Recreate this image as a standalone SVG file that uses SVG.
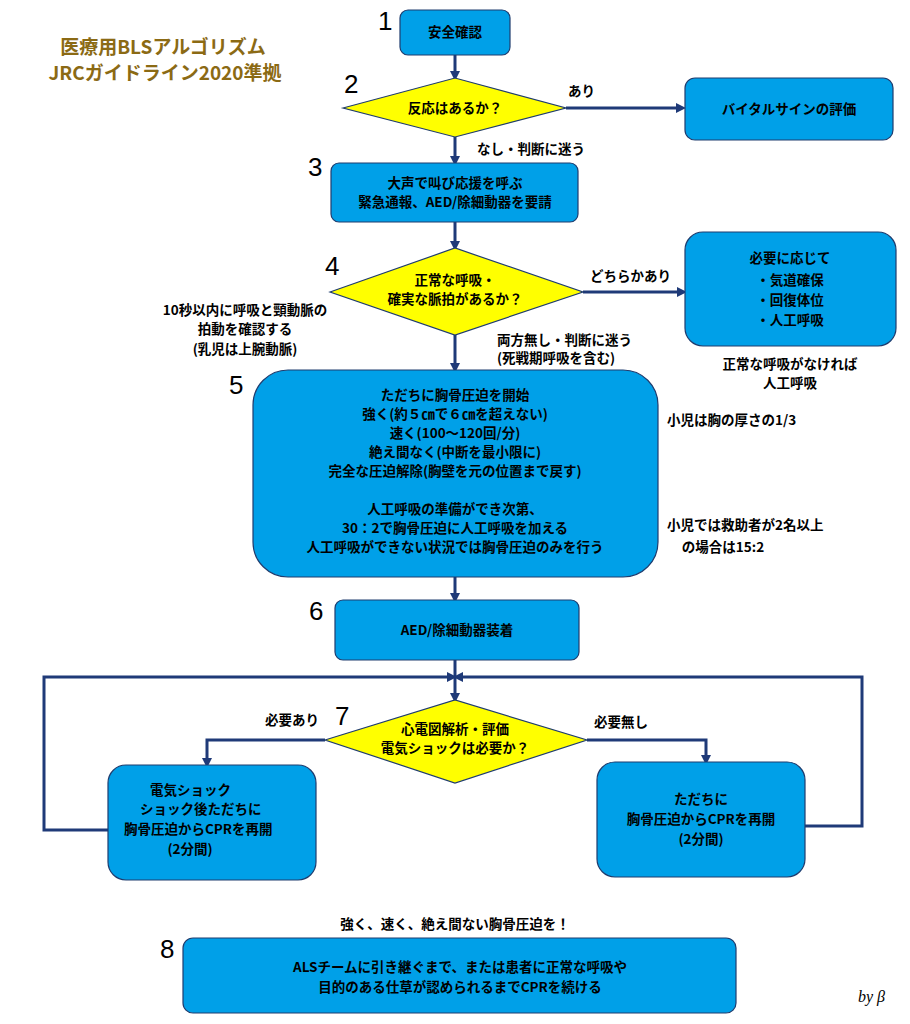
<svg xmlns="http://www.w3.org/2000/svg" width="910" height="1024" viewBox="0 0 910 1024">
<style>
.b{fill:#00a0e8;stroke:#1f3c6e;stroke-width:1.2}
.d{fill:#ffff00;stroke:#1f3c6e;stroke-width:1.2}
text{font-family:"Noto Sans CJK JP","Noto Sans",sans-serif;font-size:13.5px;font-weight:bold;fill:#000}
.c{text-anchor:middle}
.n{font-family:"Liberation Sans",sans-serif;font-size:26px;font-weight:normal}
.l{fill:none;stroke:#1f3a78;stroke-width:3}
</style>
<defs><marker id="a" markerWidth="10" markerHeight="10" refX="5" refY="5" orient="auto" markerUnits="userSpaceOnUse"><path d="M0,0 L10,5 L0,10 z" fill="#1f3a78"/></marker></defs>
<rect width="910" height="1024" fill="#fff"/>
<g id="title"><text x="163" y="54" class="c" style="font-size:19px;fill:#8b6a14">医療用BLSアルゴリズム</text><text x="165" y="80" class="c" style="font-size:19px;fill:#8b6a14">JRCガイドライン2020準拠</text></g>
<g id="nums"><text class="n" x="378" y="30">1</text><text class="n" x="344" y="93">2</text><text class="n" x="308" y="176">3</text><text class="n" x="325" y="275">4</text><text class="n" x="229" y="394">5</text><text class="n" x="309" y="620">6</text><text class="n" x="335" y="725">7</text><text class="n" x="160" y="958">8</text></g>
<g id="connectors">
<path class="l" d="M455,55V76" marker-end="url(#a)"/>
<path class="l" d="M566,108H681" marker-end="url(#a)"/>
<path class="l" d="M455,137V161" marker-end="url(#a)"/>
<path class="l" d="M455,222V246" marker-end="url(#a)"/>
<path class="l" d="M583,292H682" marker-end="url(#a)"/>
<path class="l" d="M455,335V368" marker-end="url(#a)"/>
<path class="l" d="M455,577V598" marker-end="url(#a)"/>
<path class="l" d="M455,660V698" marker-end="url(#a)"/>
<path class="l" d="M108,830H44V677H452" marker-end="url(#a)"/>
<path class="l" d="M805,826H862V677H458" marker-end="url(#a)"/>
<path class="l" d="M325,740H207V763" marker-end="url(#a)"/>
<path class="l" d="M587,740H706V760" marker-end="url(#a)"/>
</g>
<g id="labels">
<text x="568" y="96">あり</text>
<text x="477" y="154">なし・判断に迷う</text>
<text x="590" y="281">どちらかあり</text>
<text x="245" y="315" class="c">10秒以内に呼吸と頸動脈の</text>
<text x="245" y="334" class="c">拍動を確認する</text>
<text x="245" y="354" class="c">(乳児は上腕動脈)</text>
<text x="497" y="345">両方無し・判断に迷う</text>
<text x="497" y="363">(死戦期呼吸を含む)</text>
<text x="790" y="369" class="c">正常な呼吸がなければ</text>
<text x="790" y="388" class="c">人工呼吸</text>
<text x="667" y="425">小児は胸の厚さの1/3</text>
<text x="667" y="530">小児では救助者が2名以上</text>
<text x="723" y="552" class="c">の場合は15:2</text>
<text x="292" y="725" class="c">必要あり</text>
<text x="621" y="727" class="c">必要無し</text>
<text x="455" y="929" class="c">強く、速く、絶え間ない胸骨圧迫を！</text>
<text x="858" y="1002" style="font-family:'Liberation Serif',serif;font-style:italic;font-weight:normal;font-size:16px">by β</text>
</g>
<g id="n1"><rect class="b" x="400" y="10" width="110" height="45" rx="8"/><text x="455" y="37" class="c">安全確認</text></g>
<g id="n2"><polygon class="d" points="343,108 455,78 566,108 455,137"/><text x="455" y="113" class="c">反応はあるか？</text></g>
<g id="nv"><rect class="b" x="685" y="78" width="208" height="62" rx="10"/><text x="789" y="114" class="c">バイタルサインの評価</text></g>
<g id="n3"><rect class="b" x="331" y="163" width="247" height="59" rx="8"/><text x="455" y="188" class="c">大声で叫び応援を呼ぶ</text><text x="455" y="207" class="c">緊急通報、AED/除細動器を要請</text></g>
<g id="n4"><polygon class="d" points="330,292 455,248 583,292 455,335"/><text x="455" y="285" class="c">正常な呼吸・</text><text x="455" y="304" class="c">確実な脈拍があるか？</text></g>
<g id="nr"><rect class="b" x="685" y="232" width="211" height="114" rx="18"/><text x="790" y="263" class="c">必要に応じて</text><text x="790" y="285" class="c">・気道確保</text><text x="790" y="305" class="c">・回復体位</text><text x="790" y="325" class="c">・人工呼吸</text></g>
<g id="n5"><rect class="b" x="253" y="370" width="405" height="207" rx="35"/>
<text x="455" y="400" class="c">ただちに胸骨圧迫を開始</text>
<text x="455" y="419" class="c">強く(約５㎝で６㎝を超えない)</text>
<text x="455" y="438" class="c">速く(100～120回/分)</text>
<text x="455" y="457" class="c">絶え間なく(中断を最小限に)</text>
<text x="455" y="476" class="c">完全な圧迫解除(胸壁を元の位置まで戻す)</text>
<text x="455" y="514" class="c">人工呼吸の準備ができ次第、</text>
<text x="455" y="533" class="c">30：2で胸骨圧迫に人工呼吸を加える</text>
<text x="455" y="552" class="c">人工呼吸ができない状況では胸骨圧迫のみを行う</text></g>
<g id="n6"><rect class="b" x="335" y="600" width="244" height="60" rx="8"/><text x="457" y="635" class="c">AED/除細動器装着</text></g>
<g id="n7"><polygon class="d" points="325,740 455,700 587,740 455,783"/><text x="455" y="734" class="c">心電図解析・評価</text><text x="455" y="753" class="c">電気ショックは必要か？</text></g>
<g id="n7l"><rect class="b" x="108" y="765" width="208" height="115" rx="18"/><text x="150" y="795">電気ショック</text><text x="140" y="814">ショック後ただちに</text><text x="124" y="834">胸骨圧迫からCPRを再開</text><text x="190" y="854" class="c">(2分間)</text></g>
<g id="n7r"><rect class="b" x="597" y="762" width="208" height="115" rx="18"/><text x="701" y="804" class="c">ただちに</text><text x="701" y="824" class="c">胸骨圧迫からCPRを再開</text><text x="701" y="844" class="c">(2分間)</text></g>
<g id="n8"><rect class="b" x="183" y="938" width="553" height="75" rx="10"/><text x="460" y="972" class="c">ALSチームに引き継ぐまで、または患者に正常な呼吸や</text><text x="460" y="992" class="c">目的のある仕草が認められるまでCPRを続ける</text></g>
</svg>
